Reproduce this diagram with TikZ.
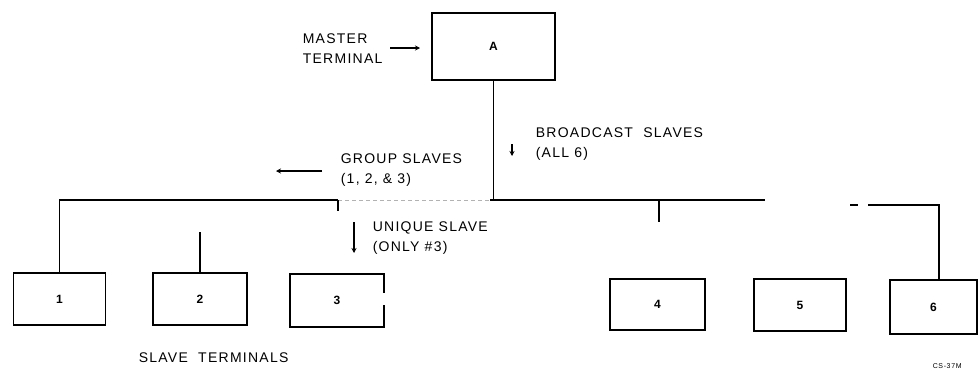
\documentclass[tikz,border=0pt]{standalone}
\usepackage{fontspec}
\setmainfont[LetterSpace=9]{Liberation Sans}
\usetikzlibrary{arrows.meta}
\begin{document}
\begin{tikzpicture}[x=1pt,y=-1pt,
  line width=1.6pt,
  termbox/.style args={#1x#2}{draw, line width=1.6pt, minimum width=#1pt, minimum height=#2pt, inner sep=0pt, font=\bfseries\fontsize{12}{14}\selectfont},
  lab/.style={anchor=west, align=left, inner sep=0pt, font=\fontsize{14}{20}\selectfont},
  arr/.style={line width=1.4pt, -{Stealth[length=5pt,width=5pt]}},
  faint/.style={line width=0.8pt, gray!60, dash pattern=on 4pt off 3pt}]
\useasboundingbox[fill=white] (0,0) rectangle (980,370);

% master terminal
\node[termbox=123x67] (master) at (493.5,46.5) {A};
\node[lab] (mlab) at (302,49) {MASTER\\TERMINAL};
\coordinate (ma) at (390,48);
\coordinate (mb) at (420,48);
\draw[arr] (ma) -- (mb);

% bus coordinates
\coordinate (bL) at (59.5,200);
\coordinate (bT) at (338,200);
\coordinate (bF) at (490,200);
\coordinate (jn) at (493.5,200);
\coordinate (bE) at (765,200);
\coordinate (dA) at (850,205);
\coordinate (dB) at (858,205);
\coordinate (rA) at (868,205);
\coordinate (rB) at (939,205);

% slave terminals
\node[termbox=92x52] (s1) at (59.5,299) {1};
\node[termbox=94x52] (s2) at (200,299) {2};
\node[termbox=94x53] (s3) at (337,300.5) {3};
\node[termbox=95x51] (s4) at (657.5,304.5) {4};
\node[termbox=92x52] (s5) at (800,305) {5};
\node[termbox=87x54] (s6) at (933.5,307) {6};

% gap in right edge of box 3
\coordinate (g3a) at (384,293);
\coordinate (g3b) at (384,305);
\draw[white, line width=3pt] (g3a) -- (g3b);

% trunk and bus
\draw (master.south) -- (jn);
\draw (s1.north) -- (bL) -- (bT);
\draw[faint] (bT) -- (bF);
\draw (bF) -- (bE);
\draw (dA) -- (dB);
\draw (rA) -- (rB) -- (rB |- s6.north);

% stubs
\coordinate (t2) at (200,232);
\draw[line width=1.2pt] (t2) -- (s2.north);
\coordinate (t3) at (338,211);
\draw[line width=1.2pt] (bT) -- (t3);
\coordinate (t4) at (659,222);
\draw[line width=1.2pt] (t4 |- bL) -- (t4);

% broadcast
\node[lab] (blab) at (535,144) {BROADCAST\ \ SLAVES\\(ALL\ 6)};
\coordinate (ba) at (512,144);
\coordinate (bb) at (512,156);
\draw[arr] (ba) -- (bb);

% group
\node[lab] (glab) at (340,170.5) {GROUP SLAVES\\(1, 2, \& 3)};
\coordinate (ga) at (322,171);
\coordinate (gb) at (276,171);
\draw[arr] (ga) -- (gb);

% unique
\node[lab] (ulab) at (372,238.5) {UNIQUE SLAVE\\(ONLY \#3)};
\coordinate (ua) at (354,222);
\coordinate (ub) at (354,253);
\draw[arr] (ua) -- (ub);

% caption
\node[lab] (cap) at (138,357.5) {SLAVE\ \ TERMINALS};
\node[anchor=west, inner sep=0pt, font=\fontsize{7}{8}\selectfont] (fig) at (932,366) {CS-37M};
\end{tikzpicture}
\end{document}
